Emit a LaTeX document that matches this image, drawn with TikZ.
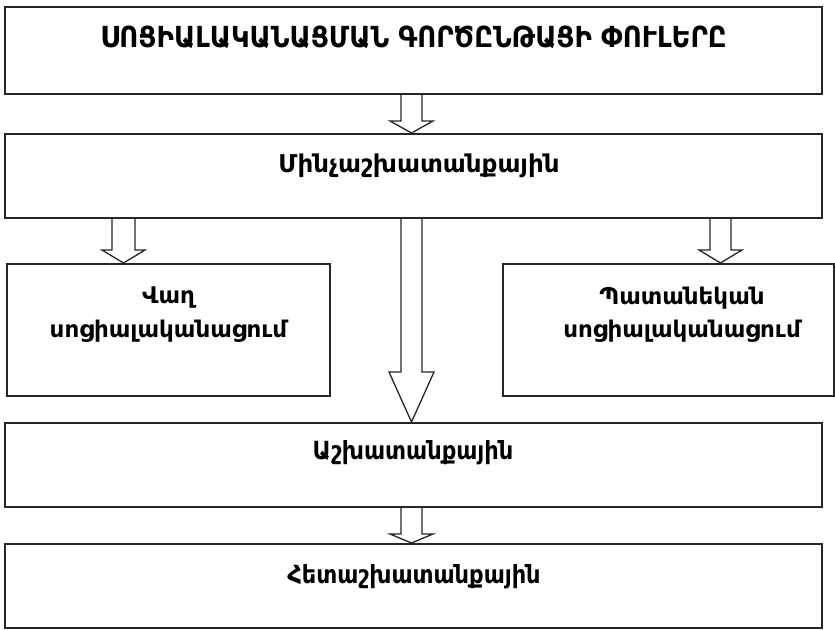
\documentclass[tikz,border=0pt]{standalone}
\usepackage{fontspec}
\setmainfont{DejaVu Sans}
\newfontfamily\condfont{DejaVu Sans Condensed}
\begin{document}
\begin{tikzpicture}[x=1pt,y=-1pt,
  box/.style={draw=black!85,line width=2pt,fill=none,inner sep=0pt},
  barrow/.style={draw=black!85,line width=1.3pt,line join=miter},
  lab/.style={anchor=base,inner sep=0pt,font=\bfseries\fontsize{23}{28}\selectfont},
  clab/.style={anchor=base,inner sep=0pt,font=\condfont\bfseries\fontsize{25}{29}\selectfont}]
\useasboundingbox (0,0) rectangle (835,629);
\path[fill=white] (0,0) rectangle (835,629);
% boxes
\node[box,minimum width=817pt,minimum height=87pt] (b1) at (413.5,50.5) {};
\node[box,minimum width=817pt,minimum height=84pt] (b2) at (413.5,176) {};
\node[box,minimum width=323pt,minimum height=132pt] (b3) at (168.5,330) {};
\node[box,minimum width=331pt,minimum height=132pt] (b4) at (668.5,330) {};
\node[box,minimum width=817pt,minimum height=84pt] (b5) at (413.5,465) {};
\node[box,minimum width=817pt,minimum height=84pt] (b6) at (413.5,586) {};
% labels
\node[clab,font=\condfont\bfseries\fontsize{29}{33}\selectfont] (t1) at (413.5,47) {ՍՈՑԻԱԼԱԿԱՆԱՑՄԱՆ ԳՈՐԾԸՆԹԱՑԻ ՓՈՒԼԵՐԸ};
\node[lab,font=\bfseries\fontsize{24.5}{30}\selectfont] (t2) at (419,172) {Մինչաշխատանքային};
\node[lab] (t3a) at (168.5,303) {Վաղ};
\node[lab] (t3b) at (168.5,337) {սոցիալականացում};
\node[lab] (t4a) at (682,304) {Պատանեկան};
\node[lab] (t4b) at (682,337) {սոցիալականացում};
\node[clab] (t5) at (413,459) {Աշխատանքային};
\node[clab] (t6) at (414,583) {Հետաշխատանքային};
% block arrows
\draw[barrow] (b1.south -| 401,0) -- (401,121) -- (390,121) -- (b2.north -| 411.5,0) -- (433,121) -- (422,121) -- (b1.south -| 422,0);
\draw[barrow] (b2.south -| 112,0) -- (112,250) -- (102,250) -- (b3.north -| 123.5,0) -- (145,250) -- (135,250) -- (b2.south -| 135,0);
\draw[barrow] (b2.south -| 710,0) -- (710,250) -- (699,250) -- (b4.north -| 720.5,0) -- (742,250) -- (731,250) -- (b2.south -| 731,0);
\draw[barrow] (b2.south -| 401,0) -- (401,372) -- (389,372) -- (b5.north -| 411.5,0) -- (434,372) -- (422,372) -- (b2.south -| 422,0);
\draw[barrow] (b5.south -| 401,0) -- (401,534) -- (390,534) -- (b6.north -| 411.5,0) -- (433,534) -- (422,534) -- (b5.south -| 422,0);
\end{tikzpicture}
\end{document}
